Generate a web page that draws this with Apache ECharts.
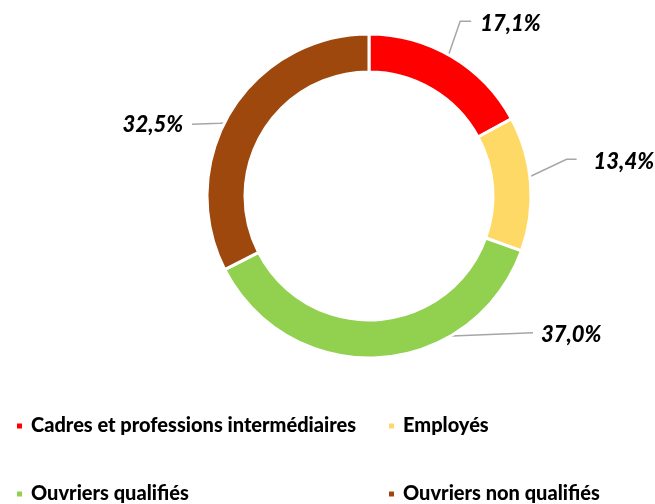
<!DOCTYPE html>
<html>
<head>
<meta charset="utf-8">
<script src="https://cdn.jsdelivr.net/npm/echarts@6/dist/echarts.min.js"></script>
<style>
  html, body { margin: 0; padding: 0; background: #fff; }
  #chartRepartition { width: 655px; height: 504px; }
</style>
</head>
<body>
<div id="chartRepartition"></div>
<script>
// categories and shares (%)
var categories = ['Cadres et professions intermédiaires', 'Employés', 'Ouvriers qualifiés', 'Ouvriers non qualifiés'];
var shares = [17.1, 13.4, 37.0, 32.5];
var colors = ['#FF0000', '#FFD966', '#92D050', '#9E480E'];

var CX = 369, CY = 196, R_IN = 124, R_OUT = 162;

// where each label sits relative to the middle of its slice: [elbow, end, text], align
var labelOffsets = [
    {elbow: [18, -52], end: [29, -52], text: [38, -49], align: 'left'},
    {elbow: [55, -26], end: [65, -26], text: [82, -23], align: 'left'},
    {elbow: [80, -3], end: [155, -6], text: [163, -4], align: 'left'},
    {elbow: [-27, 2], end: [-55, 3], text: [-64, 4], align: 'right'}
];

var total = shares.reduce(function (a, b) { return a + b; }, 0);

// middle of a slice, half way through the ring
function sliceAnchor(idx) {
    var before = 0;
    for (var i = 0; i < idx; i++) before += shares[i];
    var ang = (before + shares[idx] / 2) / total * 2 * Math.PI;
    var r = (R_IN + R_OUT) / 2;
    return [CX + r * Math.sin(ang), CY - r * Math.cos(ang)];
}

var legendText = {
    fontFamily: 'Lato',
    fontWeight: 900,
    fontSize: 20,
    color: '#000',
    lineHeight: 20,
    padding: [0, 0, 0, 3]
};

var myChartRepartition = echarts.init(document.getElementById('chartRepartition'));

let Repartition = {
    animation: false,
    color: colors,
    legend: [
        {
            data: [categories[0], categories[2]],
            orient: 'vertical',
            left: 15,
            top: 416,
            padding: 0,
            itemGap: 48,
            itemWidth: 7,
            itemHeight: 7,
            icon: 'rect',
            selectedMode: false,
            textStyle: legendText
        },
        {
            data: [categories[1], categories[3]],
            orient: 'vertical',
            left: 387,
            top: 416,
            padding: 0,
            itemGap: 48,
            itemWidth: 7,
            itemHeight: 7,
            icon: 'rect',
            selectedMode: false,
            textStyle: legendText
        }
    ],
    series: [
        {
            type: 'pie',
            center: [CX, CY],
            radius: [R_IN, R_OUT],
            startAngle: 90,
            clockwise: true,
            avoidLabelOverlap: false,
            emphasis: { disabled: true },
            itemStyle: {
                borderColor: '#fff',
                borderWidth: 3
            },
            data: categories.map(function (name, i) {
                return {name: name, value: shares[i]};
            }),
            label: {
                show: true,
                position: 'outside',
                formatter: function (p) {
                    return p.value.toFixed(1).replace('.', ',') + '%';
                },
                fontFamily: 'Lato',
                fontWeight: 900,
                fontStyle: 'italic',
                fontSize: 22,
                color: '#000'
            },
            labelLine: {
                show: true,
                lineStyle: { color: '#A6A6A6', width: 1.5 }
            },
            labelLayout: function (params) {
                var a = sliceAnchor(params.dataIndex);
                var o = labelOffsets[params.dataIndex];
                return {
                    x: a[0] + o.text[0],
                    y: a[1] + o.text[1],
                    align: o.align,
                    verticalAlign: 'middle',
                    labelLinePoints: [
                        a,
                        [a[0] + o.elbow[0], a[1] + o.elbow[1]],
                        [a[0] + o.end[0], a[1] + o.end[1]]
                    ]
                };
            }
        }
    ]
};

myChartRepartition.setOption(Repartition);
</script>
</body>
</html>
